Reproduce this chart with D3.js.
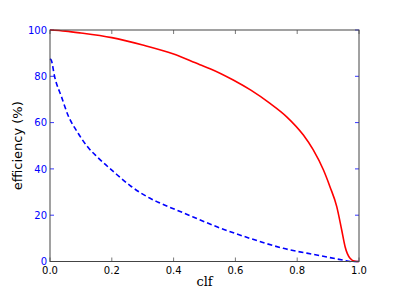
<!DOCTYPE html>
<html lang="en">
<head>
    <meta charset="UTF-8">
    <title>Efficiency vs clf</title>
    <script src="https://d3js.org/d3.v7.min.js"></script>
    <style>
        body { margin: 0; background: #fff; }
        text { font-family: "DejaVu Sans", sans-serif; }
    </style>
</head>
<body>
    <div id="chart"></div>

    <script>
        // values
        const clfRed = [0, 0.05, 0.1, 0.2, 0.3, 0.4, 0.485, 0.518, 0.593, 0.65, 0.712, 0.766, 0.82, 0.852, 0.885, 0.906, 0.928, 0.944, 0.955, 0.971, 0.987, 1.0];
        const effRed = [100, 99.5, 98.7, 96.7, 93.5, 89.6, 85.0, 83.3, 78.4, 74.0, 68.3, 62.5, 54.6, 48.2, 39.5, 32.3, 23.7, 13.6, 6.4, 1.4, 0.1, 0];

        const clfBlue = [0, 0.004, 0.015, 0.037, 0.058, 0.091, 0.123, 0.155, 0.209, 0.263, 0.324, 0.35, 0.432, 0.54, 0.647, 0.755, 0.863, 0.949, 0.975, 1.0];
        const effBlue = [87.5, 87, 79.8, 71.2, 63.3, 55.4, 49.3, 44.9, 38.4, 32.4, 27.3, 25.6, 21.0, 15.0, 10.0, 5.7, 2.8, 0.6, 0, 0];

        const xTicks = [0, 0.2, 0.4, 0.6, 0.8, 1.0];
        const yTicks = [0, 20, 40, 60, 80, 100];

        const width = 399, height = 299;
        const margin = {top: 30, right: 40, bottom: 37.5, left: 50};

        const svg = d3.select("#chart")
                      .append("svg")
                      .attr("width", width)
                      .attr("height", height);

        const x = d3.scaleLinear().domain([0, 1]).range([margin.left, width - margin.right]);
        const y = d3.scaleLinear().domain([0, 100]).range([height - margin.bottom, margin.top]);

        // tick marks on all four sides, pointing inward
        const tickLen = 4;
        svg.append("g").selectAll("line")
           .data(xTicks).join("line")
           .attr("x1", d => x(d)).attr("x2", d => x(d))
           .attr("y1", y(0)).attr("y2", y(0) - tickLen)
           .attr("stroke", "#555").attr("stroke-width", 0.8);
        svg.append("g").selectAll("line")
           .data(xTicks).join("line")
           .attr("x1", d => x(d)).attr("x2", d => x(d))
           .attr("y1", y(100)).attr("y2", y(100) + tickLen)
           .attr("stroke", "#555").attr("stroke-width", 0.8);
        svg.append("g").selectAll("line")
           .data(yTicks).join("line")
           .attr("x1", x(0)).attr("x2", x(0) + tickLen)
           .attr("y1", d => y(d)).attr("y2", d => y(d))
           .attr("stroke", "blue").attr("stroke-width", 0.8);
        svg.append("g").selectAll("line")
           .data(yTicks).join("line")
           .attr("x1", x(1)).attr("x2", x(1) - tickLen)
           .attr("y1", d => y(d)).attr("y2", d => y(d))
           .attr("stroke", "blue").attr("stroke-width", 0.8);

        // tick labels
        svg.append("g").selectAll("text")
           .data(xTicks).join("text")
           .attr("x", d => x(d))
           .attr("y", y(0) + 12)
           .attr("text-anchor", "middle")
           .attr("font-size", "10px")
           .attr("fill", "black")
           .text(d => d.toFixed(1));
        svg.append("g").selectAll("text")
           .data(yTicks).join("text")
           .attr("x", x(0) - 3)
           .attr("y", d => y(d) + 3.6)
           .attr("text-anchor", "end")
           .attr("font-size", "10px")
           .attr("fill", "blue")
           .text(d => d);

        // curves
        const line = d3.line().x(d => x(d[0])).y(d => y(d[1])).curve(d3.curveMonotoneX);
        svg.append("path")
           .datum(d3.zip(clfBlue, effBlue))
           .attr("d", line)
           .attr("fill", "none")
           .attr("stroke", "blue")
           .attr("stroke-width", 1.6)
           .attr("stroke-dasharray", "5,3");
        svg.append("path")
           .datum(d3.zip(clfRed, effRed))
           .attr("d", line)
           .attr("fill", "none")
           .attr("stroke", "red")
           .attr("stroke-width", 1.6);

        // frame
        svg.append("rect")
           .attr("x", x(0)).attr("y", y(100))
           .attr("width", x(1) - x(0)).attr("height", y(0) - y(100))
           .attr("fill", "none")
           .attr("stroke", "#444")
           .attr("stroke-width", 1);

        // axis labels
        svg.append("text")
           .attr("x", (x(0) + x(1)) / 2)
           .attr("y", 286)
           .attr("text-anchor", "middle")
           .attr("font-size", "13px")
           .style("font-family", "'DejaVu Serif', serif")
           .text("clf");
        svg.append("text")
           .attr("transform", `translate(22,${(y(0) + y(100)) / 2}) rotate(-90)`)
           .attr("text-anchor", "middle")
           .attr("font-size", "13px")
           .text("efficiency (%)");
    </script>
</body>
</html>
